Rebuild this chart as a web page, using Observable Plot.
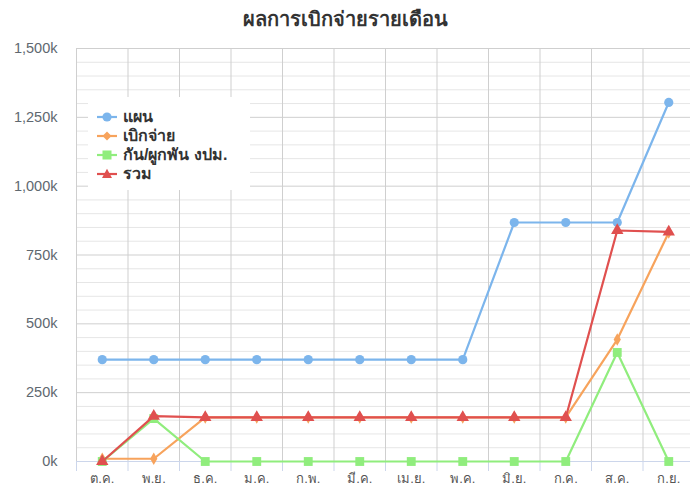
<!DOCTYPE html>
<html>
<head>
<meta charset="utf-8">
<script src="https://cdn.jsdelivr.net/npm/d3@7"></script>
<script src="https://cdn.jsdelivr.net/npm/@observablehq/plot@0.6"></script>
<style>
  body { margin: 0; background: #fff; font-family: "Liberation Sans", "Noto Sans", "DejaVu Sans", sans-serif; }
  #wrap { position: relative; width: 690px; height: 489px; overflow: hidden; }
  #title { height: 36px; line-height: 38px; text-align: center; font-size: 20px; font-weight: bold; color: #333; }
  #legend { position: absolute; left: 88px; top: 97px; width: 162px; height: 93px; background: #fff; }
  .li { position: absolute; left: 9px; height: 19px; display: flex; align-items: center; font-size: 16px; font-weight: bold; color: #333; white-space: nowrap; }
  .li svg { margin-right: 6px; }
</style>
</head>
<body>
<div id="wrap">
  <div id="title">ผลการเบิกจ่ายรายเดือน</div>
  <div id="chart"></div>
  <div id="legend"></div>
</div>
<script>
const months = ["ต.ค.", "พ.ย.", "ธ.ค.", "ม.ค.", "ก.พ.", "มี.ค.", "เม.ย.", "พ.ค.", "มิ.ย.", "ก.ค.", "ส.ค.", "ก.ย."];
const seriesNames = ["แผน", "เบิกจ่าย", "กัน/ผูกพัน งปม.", "รวม"];
const plan     = [370000, 370000, 370000, 370000, 370000, 370000, 370000, 370000, 868000, 868000, 868000, 1304000];
const disburse = [10000, 10000, 160000, 160000, 160000, 160000, 160000, 160000, 160000, 160000, 443000, 832000];
const committed= [0, 156000, 0, 0, 0, 0, 0, 0, 0, 0, 396000, 0];
const total    = [0, 165000, 160000, 160000, 160000, 160000, 160000, 160000, 160000, 160000, 839000, 834000];
const yTicks = [0, 250000, 500000, 750000, 1000000, 1250000, 1500000];

const colors = ["#7cb5ec", "#f7a35c", "#90ed7d", "#e0504f"];
const symbols = ["circle", "diamond", "square", "triangle"];
const radii = [4.6, 3.8, 5, 4.6];
const allSeries = [plan, disburse, committed, total];

const data = [];
allSeries.forEach((vals, s) => vals.forEach((v, i) => data.push({i, v, s: seriesNames[s]})));

const minor = d3.range(0, 1500001, 50000).filter(d => d % 250000 !== 0);
const bounds = months.map((m, i) => i - 0.5).concat([months.length - 0.5]);

const marks = [
  Plot.ruleY(minor, {stroke: "#e6e6e6", strokeWidth: 1}),
  Plot.ruleY(yTicks, {stroke: "#cfcfcf", strokeWidth: 1}),
  Plot.ruleX(bounds, {stroke: "#cfcfcf", strokeWidth: 1}),
  Plot.ruleY([0], {stroke: "#ccd6eb", strokeWidth: 1}),
  Plot.axisX({ticks: bounds, tickFormat: () => "", tickSize: 10, stroke: "#ccd6eb", label: null}),
  Plot.axisX({ticks: months.map((m, i) => i), tickFormat: i => months[i], tickSize: 0, tickPadding: 12, fontSize: 13, fill: "#555", label: null}),
  Plot.axisY({ticks: yTicks, tickFormat: d => d3.format(",")(d / 1000) + "k", tickSize: 0, tickPadding: 19, fontSize: 14.5, fill: "#606870", label: null})
];
seriesNames.forEach((name, s) => {
  const d = data.filter(r => r.s === name);
  marks.push(Plot.line(d, {x: "i", y: "v", stroke: colors[s], strokeWidth: 2.2}));
  marks.push(Plot.dot(d, {x: "i", y: "v", fill: colors[s], symbol: () => symbols[s], r: radii[s], stroke: "none"}));
});

const chart = Plot.plot({
  width: 690,
  height: 453,
  marginTop: 12,
  marginBottom: 28,
  marginLeft: 76,
  marginRight: 0,
  style: {fontFamily: "'Liberation Sans', 'Noto Sans', 'DejaVu Sans', sans-serif", overflow: "visible"},
  x: {type: "linear", domain: [-0.5, months.length - 0.5], range: [76, 694], label: null},
  y: {domain: [0, 1500000], label: null},
  symbol: {type: "identity"},
  marks
});
document.getElementById("chart").appendChild(chart);

const legend = document.getElementById("legend");
seriesNames.forEach((name, s) => {
  const el = document.createElement("div");
  el.className = "li";
  el.style.top = (10 + s * 19) + "px";
  const shape = s === 0 ? `<circle cx="10" cy="7" r="4.6" fill="${colors[s]}"/>`
    : s === 1 ? `<path d="M10,2.5 L14.5,7 L10,11.5 L5.5,7Z" fill="${colors[s]}"/>`
    : s === 2 ? `<rect x="5.5" y="2.5" width="9" height="9" fill="${colors[s]}"/>`
    : `<path d="M10,1.8 L15,11 L5,11Z" fill="${colors[s]}"/>`;
  el.innerHTML = `<svg width="20" height="14"><line x1="0" y1="7" x2="20" y2="7" stroke="${colors[s]}" stroke-width="2.2"/>${shape}</svg><span>${name}</span>`;
  legend.appendChild(el);
});
</script>
</body>
</html>
